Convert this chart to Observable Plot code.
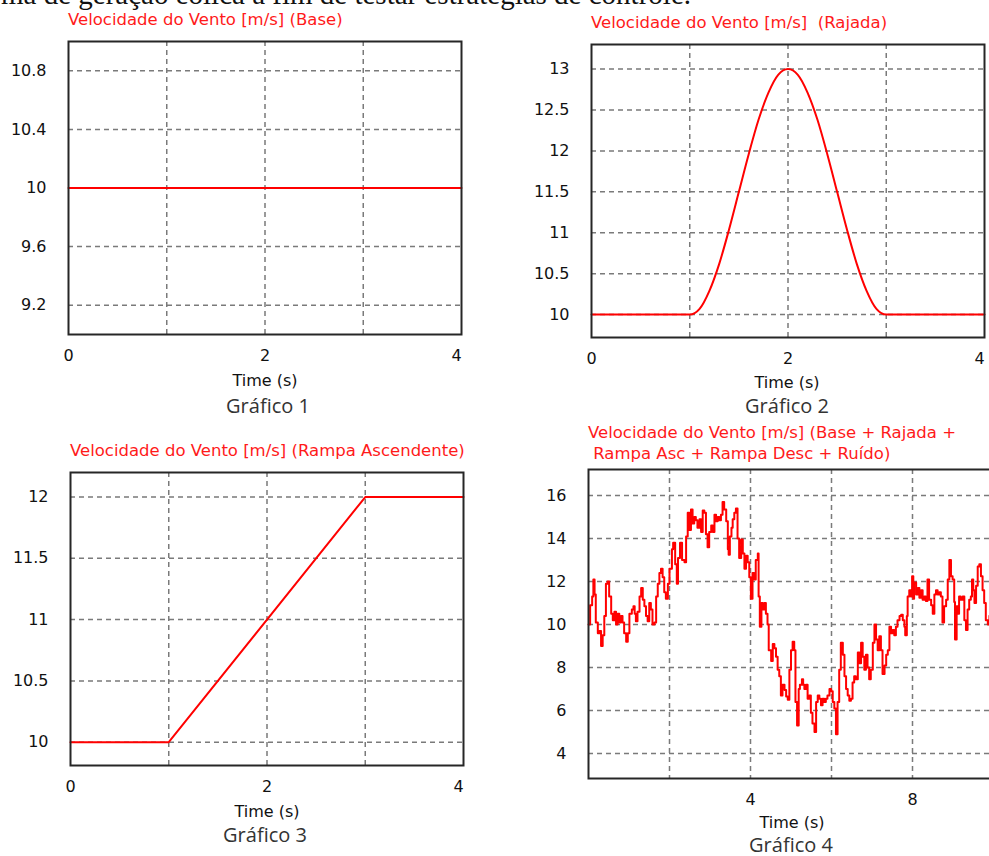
<!DOCTYPE html>
<html>
<head>
<meta charset="utf-8">
<script src="https://cdn.jsdelivr.net/npm/d3@7"></script>
<script src="https://cdn.jsdelivr.net/npm/@observablehq/plot@0.6"></script>
<style>
  html, body { margin: 0; padding: 0; background: #fff; }
  body { width: 989px; height: 856px; overflow: hidden; position: relative; }
  .lbl { position: absolute; white-space: pre; }
  .title { font-family: "DejaVu Sans", sans-serif; font-size: 16.5px; color: #ff1a1a; line-height: 17px; transform: translateY(-50%); }
  .axlab { font-family: "DejaVu Sans", sans-serif; font-size: 16px; color: #111; line-height: 16px; transform: translate(-50%, -50%); }
  .cap { font-family: "Open Sans", sans-serif; font-size: 20px; color: #333; line-height: 20px; transform: translate(-50%, -50%); }
  .doc { font-family: "Liberation Serif", serif; font-size: 29px; color: #111; line-height: 32px; }
</style>
</head>
<body>
<script>
// ---------- data ----------
const baseTime = [0, 4];
const baseSpeed = [10, 10];

const gustTime  = [0, 1, 1.1, 1.2, 1.3, 1.4, 1.5, 1.6, 1.7, 1.8, 1.9, 2.0, 2.1, 2.2, 2.3, 2.4, 2.5, 2.6, 2.7, 2.8, 2.9, 3.0, 4];
const gustSpeed = [10, 10, 10.07, 10.29, 10.62, 11.04, 11.5, 11.96, 12.38, 12.71, 12.93, 13.0, 12.93, 12.71, 12.38, 11.96, 11.5, 11.04, 10.62, 10.29, 10.07, 10, 10];

const rampTime  = [0, 1, 3, 4];
const rampSpeed = [10, 10, 12, 12];

// combined signal (time s, speed m/s)
const totalSeries = [
  [0.00,10.0],[0.04,10.9],[0.09,11.3],[0.12,12.1],[0.15,11.4],[0.18,10.1],[0.23,9.6],[0.27,9.7],[0.31,9.0],[0.35,9.5],
  [0.39,10.4],[0.43,11.9],[0.47,12.0],[0.51,11.3],[0.56,10.5],[0.60,10.2],[0.64,10.6],[0.68,10.0],[0.72,10.5],[0.76,10.1],
  [0.80,10.4],[0.84,10.1],[0.88,9.6],[0.93,9.2],[0.97,9.6],[1.01,10.5],[1.07,10.7],[1.11,10.85],[1.14,10.5],[1.17,10.15],
  [1.21,10.6],[1.26,11.3],[1.30,11.7],[1.34,11.15],[1.38,10.85],[1.42,10.4],[1.46,10.15],[1.50,11.0],[1.54,10.7],[1.58,10.0],
  [1.63,10.1],[1.67,11.3],[1.71,11.9],[1.75,12.4],[1.79,12.6],[1.83,12.2],[1.87,11.5],[1.91,11.2],[1.96,11.9],[2.00,12.6],
  [2.06,13.5],[2.09,13.8],[2.14,12.8],[2.18,11.9],[2.21,13.1],[2.26,13.8],[2.31,13.0],[2.37,12.9],[2.41,14.1],[2.45,15.2],
  [2.49,14.4],[2.53,15.35],[2.57,14.7],[2.61,15.0],[2.65,14.85],[2.69,14.5],[2.74,14.9],[2.78,14.3],[2.82,15.3],[2.86,15.2],
  [2.90,14.2],[2.94,13.6],[2.98,14.3],[3.03,14.6],[3.07,14.3],[3.11,15.1],[3.15,14.8],[3.19,15.0],[3.23,14.85],[3.27,15.1],
  [3.31,15.7],[3.35,15.35],[3.40,14.8],[3.44,13.5],[3.46,13.25],[3.49,14.1],[3.53,14.5],[3.56,14.9],[3.60,15.2],[3.64,15.4],
  [3.68,14.0],[3.72,13.1],[3.77,13.95],[3.81,13.3],[3.85,12.6],[3.89,13.2],[3.93,12.9],[3.97,12.2],[4.01,11.2],[4.05,12.4],
  [4.09,12.1],[4.13,13.0],[4.18,13.3],[4.20,11.3],[4.23,9.9],[4.27,11.0],[4.30,10.7],[4.34,11.0],[4.38,10.5],[4.42,10.0],
  [4.45,8.8],[4.51,8.3],[4.55,9.1],[4.59,8.9],[4.63,8.5],[4.67,7.9],[4.71,7.6],[4.75,6.7],[4.79,7.2],[4.84,6.95],
  [4.88,6.65],[4.92,6.5],[4.96,7.9],[5.00,8.8],[5.04,9.2],[5.08,8.8],[5.11,6.4],[5.15,5.3],[5.19,7.0],[5.22,7.2],
  [5.27,7.45],[5.30,7.2],[5.33,7.0],[5.37,7.2],[5.41,6.55],[5.45,6.7],[5.49,5.9],[5.53,5.4],[5.58,5.0],[5.62,6.4],
  [5.66,6.7],[5.70,6.55],[5.74,6.25],[5.78,6.55],[5.82,6.4],[5.86,6.55],[5.90,6.7],[5.95,7.0],[5.99,6.9],[6.03,6.4],
  [6.07,6.1],[6.11,4.9],[6.15,6.4],[6.19,7.9],[6.23,9.15],[6.28,8.6],[6.32,7.6],[6.36,7.0],[6.40,6.7],[6.44,6.45],
  [6.48,6.55],[6.52,7.3],[6.56,7.6],[6.60,7.45],[6.65,8.7],[6.69,8.2],[6.73,9.15],[6.77,8.5],[6.81,7.9],[6.85,8.6],
  [6.89,8.0],[6.93,7.45],[6.97,7.9],[7.02,9.15],[7.06,10.0],[7.10,9.3],[7.14,8.8],[7.18,9.45],[7.22,8.8],[7.26,7.7],
  [7.31,8.1],[7.35,8.6],[7.39,8.8],[7.43,9.9],[7.47,9.6],[7.51,9.75],[7.55,9.5],[7.59,9.9],[7.63,10.2],[7.68,10.4],
  [7.72,10.45],[7.76,10.2],[7.80,9.9],[7.82,9.5],[7.86,10.4],[7.88,11.3],[7.92,11.6],[7.96,11.3],[7.99,12.25],[8.02,11.2],
  [8.04,11.95],[8.09,11.4],[8.13,11.7],[8.17,11.25],[8.21,11.6],[8.25,11.15],[8.29,11.3],[8.33,11.1],[8.37,12.1],[8.41,11.15],
  [8.46,10.9],[8.50,10.5],[8.54,11.4],[8.58,11.6],[8.62,11.4],[8.66,11.5],[8.70,11.3],[8.74,10.1],[8.78,10.85],[8.83,11.15],
  [8.87,12.1],[8.91,13.0],[8.95,12.25],[8.99,12.1],[9.03,11.05],[9.05,9.3],[9.09,10.85],[9.12,10.5],[9.15,11.3],[9.19,11.15],
  [9.24,11.3],[9.28,10.2],[9.32,9.75],[9.36,10.7],[9.40,11.15],[9.44,11.3],[9.47,12.1],[9.50,11.6],[9.53,11.0],[9.57,11.8],
  [9.61,12.7],[9.65,12.8],[9.69,12.25],[9.73,11.6],[9.77,11.0],[9.81,10.2],[9.86,10.0],[9.90,10.4],[10.0,10.0]
];

// ticks
const xTicksShort = [0, 2];
const xTickEnd    = [4];
const xGridShort  = [1, 2, 3];
const yTicks1 = [9.2, 9.6, 10, 10.4, 10.8];
const yTicks2 = [10, 10.5, 11, 11.5, 12, 12.5, 13];
const yTicks3 = [10, 10.5, 11, 11.5, 12];
const xTicks4 = [4, 8];
const xGrid4  = [2, 4, 6, 8];
const yTicks4 = [4, 6, 8, 10, 12, 14, 16];

// texts
const docLine = "ma de geração eólica a fim de testar estratégias de controle.";
const titles = [
  "Velocidade do Vento [m/s] (Base)",
  "Velocidade do Vento [m/s]  (Rajada)",
  "Velocidade do Vento [m/s] (Rampa Ascendente)",
  "Velocidade do Vento [m/s] (Base + Rajada +",
  " Rampa Asc + Rampa Desc + Ruído)"
];
const xAxisLabel = "Time (s)";
const captions = ["Gráfico 1", "Gráfico 2", "Gráfico 3", "Gráfico 4"];

// ---------- drawing ----------
function addLabel(text, cls, x, y) {
  const d = document.createElement("div");
  d.className = "lbl " + cls;
  d.textContent = text;
  d.style.left = x + "px";
  d.style.top = y + "px";
  document.body.appendChild(d);
}

function makeChart(o) {
  const mL = 60, mT = 5, mR = 8, mB = 30;
  const data = o.t.map((t, i) => ({t, v: o.v[i]}));
  const grid = {stroke: "#7a7a7a", strokeWidth: 1.5, strokeDasharray: "5,4"};
  const axisOpts = {tickSize: 0, tickPadding: 15, label: null, fontSize: 16, tickFormat: d => String(d)};
  const marks = [
    Plot.ruleX(o.xGrid, grid),
    Plot.ruleY(o.yTicks, grid),
    Plot.line(data, {x: "t", y: "v", stroke: "#ff0000", strokeWidth: 2, curve: o.curve || "linear"}),
    Plot.frame({stroke: "#262626", strokeWidth: 2}),
    Plot.axisX(o.xTicks, axisOpts),
    Plot.axisY(o.yTicks, {tickSize: 0, tickPadding: 22, label: null, fontSize: 16, tickFormat: d => String(d)})
  ];
  if (o.xTickEnd) marks.push(Plot.axisX(o.xTickEnd, {...axisOpts, dx: -5}));
  const svg = Plot.plot({
    width: mL + o.w + mR,
    height: mT + o.h + mB,
    marginLeft: mL, marginTop: mT, marginRight: mR, marginBottom: mB,
    x: {domain: o.xDomain},
    y: {domain: o.yDomain},
    style: {fontFamily: "'DejaVu Sans', sans-serif", fontSize: "16px", color: "#111", background: "transparent", overflow: "visible"},
    marks
  });
  svg.style.position = "absolute";
  svg.style.left = (o.left - mL) + "px";
  svg.style.top = (o.top - mT) + "px";
  document.body.appendChild(svg);
}

// partial document line at the very top (cut by the page edge, as in the source)
addLabel(docLine, "doc", 1, -22);

makeChart({left: 68, top: 41, w: 393, h: 293, xDomain: [0, 4], yDomain: [9.0, 11.0],
  xTicks: xTicksShort, xTickEnd, xGrid: xGridShort, yTicks: yTicks1, t: baseTime, v: baseSpeed});
makeChart({left: 591, top: 44, w: 393, h: 293, xDomain: [0, 4], yDomain: [9.72, 13.3],
  xTicks: xTicksShort, xTickEnd, xGrid: xGridShort, yTicks: yTicks2, t: gustTime, v: gustSpeed, curve: "monotone-x"});
makeChart({left: 70, top: 472, w: 393, h: 293, xDomain: [0, 4], yDomain: [9.81, 12.2],
  xTicks: xTicksShort, xTickEnd, xGrid: xGridShort, yTicks: yTicks3, t: rampTime, v: rampSpeed});
makeChart({left: 588, top: 469, w: 405, h: 309, xDomain: [0, 10], yDomain: [2.84, 17.21],
  xTicks: xTicks4, xGrid: xGrid4, yTicks: yTicks4,
  t: totalSeries.map(d => d[0]), v: totalSeries.map(d => d[1]), curve: "step-after"});

// titles
addLabel(titles[0], "title", 68, 19);
addLabel(titles[1], "title", 591, 22);
addLabel(titles[2], "title", 70, 450);
addLabel(titles[3], "title", 588, 432);
addLabel(titles[4], "title", 588, 453);

// axis labels
addLabel(xAxisLabel, "axlab", 265, 381);
addLabel(xAxisLabel, "axlab", 787, 383);
addLabel(xAxisLabel, "axlab", 267, 812);
addLabel(xAxisLabel, "axlab", 792, 823);

// captions
addLabel(captions[0], "cap", 268, 406);
addLabel(captions[1], "cap", 787, 406);
addLabel(captions[2], "cap", 265, 835);
addLabel(captions[3], "cap", 791, 845);
</script>
</body>
</html>
